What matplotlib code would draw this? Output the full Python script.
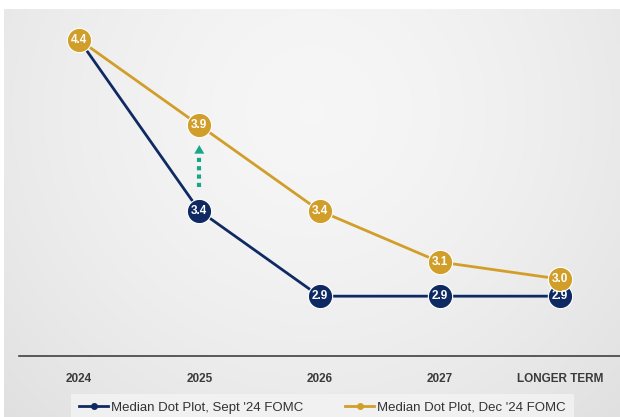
import matplotlib.pyplot as plt
import numpy as np

categories = ['2024', '2025', '2026', '2027', 'LONGER TERM']
sept_vals = [4.4, 3.4, 2.9, 2.9, 2.9]
dec_vals = [4.4, 3.9, 3.4, 3.1, 3.0]
sept_label = "Median Dot Plot, Sept '24 FOMC"
dec_label = "Median Dot Plot, Dec '24 FOMC"

NAVY = '#0f2a63'
GOLD = '#d29e2a'
TEAL = '#17a689'

plt.rcParams['font.family'] = ['Liberation Sans', 'DejaVu Sans']

fig = plt.figure(figsize=(6.2, 4.17), dpi=100, facecolor='white')

# soft gray gradient backdrop
bg = fig.add_axes([4 / 620, 0, 1 - 4 / 620, 408 / 417])
bg.set_axis_off()
gx, gy = np.meshgrid(np.linspace(-1, 1, 300), np.linspace(-1, 1, 200))
r = np.clip(np.sqrt((gx * 0.9) ** 2 + ((gy + 0.5) * 0.6) ** 2), 0, 1.4)
shade = 0.965 - 0.10 * (r / 1.4) ** 1.6
bg.imshow(np.dstack([shade] * 3), aspect='auto', extent=[0, 1, 0, 1])
bg.set_xlim(0, 1)
bg.set_ylim(0, 1)

ax = fig.add_axes([19 / 620, 61 / 417, 1 - 19 / 620, 347 / 417])
ax.set_facecolor('none')
x = np.arange(len(categories))

ax.plot(x, sept_vals, '-', color=NAVY, lw=2, zorder=3)
ax.plot(x, dec_vals, '-', color=GOLD, lw=2, zorder=2)
ax.plot(x[1:], sept_vals[1:], 'o', color=NAVY, ms=17.5, mec='white', mew=0.8, zorder=4)
ax.plot(x, dec_vals, 'o', color=GOLD, ms=17.5, mec='white', mew=0.8, zorder=4)

for xi, v in zip(x[1:], sept_vals[1:]):
    ax.text(xi, v, f'{v:.1f}', color='white', fontsize=8.5, fontweight='bold',
            ha='center', va='center', zorder=5)
for xi, v in zip(x, dec_vals):
    ax.text(xi, v, f'{v:.1f}', color='white', fontsize=8.5, fontweight='bold',
            ha='center', va='center', zorder=5)

# dotted arrow from Sept to Dec at 2025
ax.plot([1, 1], [3.54, 3.73], linestyle=(0, (1, 1)), color=TEAL, lw=3, zorder=3)
ax.annotate('', xy=(1, 3.80), xytext=(1, 3.72),
            arrowprops=dict(arrowstyle='-|>,head_width=0.35,head_length=0.6',
                            color=TEAL, lw=0.1), zorder=3)

ax.set_xlim(-0.5, 4.5)
ax.set_ylim(2.55, 4.58)
ax.set_yticks([])
ax.set_xticks(x)
ax.set_xticklabels(categories, fontsize=8.5, fontweight='bold', color='#3a3a3a')
ax.tick_params(axis='x', length=0, pad=12)
for s in ['top', 'right', 'left']:
    ax.spines[s].set_visible(False)
ax.spines['bottom'].set_color('#404040')
ax.spines['bottom'].set_linewidth(1.2)

h1, = ax.plot([], [], '-', color=NAVY, lw=2, marker='o', ms=4, label=sept_label)
h2, = ax.plot([], [], '-', color=GOLD, lw=2, marker='o', ms=4, label=dec_label)
leg = fig.legend(handles=[h1, h2], loc='upper center', bbox_to_anchor=(0.52, 0.056),
                 ncol=2, frameon=True, fancybox=False, fontsize=9.5,
                 handlelength=2.2, handletextpad=0.2, columnspacing=3.2,
                 borderpad=0.6, borderaxespad=0)
leg.get_frame().set_facecolor('#f4f4f4')
leg.get_frame().set_edgecolor('none')
for t in leg.get_texts():
    t.set_color('#333333')

fig.savefig('out.png', dpi=100)
